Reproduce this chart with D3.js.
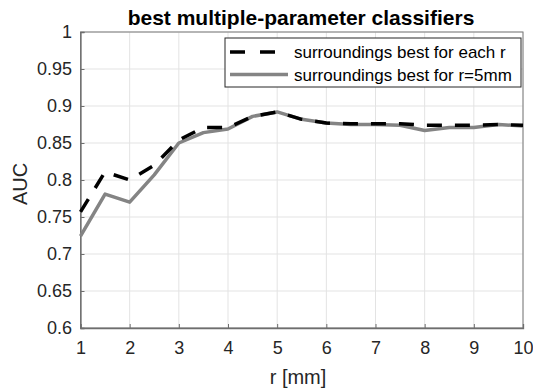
<!DOCTYPE html>
<html>
<head>
<meta charset="utf-8">
<script src="https://cdn.jsdelivr.net/npm/d3@7"></script>
<style>
  body { margin: 0; background: #fff; }
  svg { font-family: 'Liberation Sans', Arial, sans-serif; }
</style>
</head>
<body>
<div id="chart"></div>
<script>
// data
const r = [1, 1.5, 2, 2.5, 3, 3.5, 4, 4.5, 5, 5.5, 6, 6.5, 7, 7.5, 8, 8.5, 9, 9.5, 10];
const bestEach = [0.757, 0.811, 0.800, 0.820, 0.854, 0.871, 0.871, 0.886, 0.892, 0.882, 0.877, 0.876, 0.876, 0.876, 0.874, 0.874, 0.874, 0.875, 0.874];
const best5mm = [0.724, 0.781, 0.770, 0.807, 0.850, 0.864, 0.869, 0.886, 0.892, 0.882, 0.877, 0.875, 0.875, 0.874, 0.867, 0.871, 0.871, 0.875, 0.873];
const xTicks = [1, 2, 3, 4, 5, 6, 7, 8, 9, 10];
const yTicks = [0.6, 0.65, 0.7, 0.75, 0.8, 0.85, 0.9, 0.95, 1];
const seriesNames = ['surroundings best for each r', 'surroundings best for r=5mm'];

const width = 533, height = 391;
const margin = { top: 32, left: 80.5 };
const iw = 523 - margin.left, ih = 328 - margin.top;

const svg = d3.select('#chart')
    .append('svg')
    .attr('width', width)
    .attr('height', height);

const g = svg.append('g')
    .attr('transform', `translate(${margin.left},${margin.top})`);

const x = d3.scaleLinear().domain([1, 10]).range([0, iw]);
const y = d3.scaleLinear().domain([0.6, 1]).range([ih, 0]);

// grid
g.selectAll('.vgrid')
    .data(xTicks)
    .enter()
    .append('line')
    .attr('x1', d => x(d)).attr('x2', d => x(d))
    .attr('y1', 0).attr('y2', ih)
    .style('stroke', '#e3e3e3')
    .style('stroke-width', 1);

g.selectAll('.hgrid')
    .data(yTicks)
    .enter()
    .append('line')
    .attr('x1', 0).attr('x2', iw)
    .attr('y1', d => y(d)).attr('y2', d => y(d))
    .style('stroke', '#e3e3e3')
    .style('stroke-width', 1);

// box
g.append('rect')
    .attr('width', iw).attr('height', ih)
    .style('fill', 'none')
    .style('stroke', '#7a7a7a')
    .style('stroke-width', 1);

// axes
const xAxis = g.append('g')
    .attr('transform', `translate(0,${ih})`)
    .call(d3.axisBottom(x).tickValues(xTicks).tickSize(-4).tickPadding(13).tickFormat(d3.format('d')));
const yAxis = g.append('g')
    .call(d3.axisLeft(y).tickValues(yTicks).tickSize(-4).tickPadding(8.5).tickFormat(d => d3.format('')(+d.toFixed(2))));

[xAxis, yAxis].forEach(a => {
    a.select('.domain').style('stroke', '#6e6e6e').style('stroke-width', 1.3);
    a.selectAll('.tick line').style('stroke', '#6e6e6e');
    a.selectAll('text')
        .style('font-size', '18px')
        .style('fill', '#262626')
        .style('font-family', 'Liberation Sans, Arial, sans-serif');
});

// lines
const line = d3.line()
    .x((d, i) => x(r[i]))
    .y(d => y(d));

g.append('path')
    .datum(best5mm)
    .attr('d', line)
    .style('fill', 'none')
    .style('stroke', '#848484')
    .style('stroke-width', 3.5)
    .style('stroke-linejoin', 'round');

g.append('path')
    .datum(bestEach)
    .attr('d', line)
    .style('fill', 'none')
    .style('stroke', '#000')
    .style('stroke-width', 3.5)
    .style('stroke-dasharray', '15,13');

// title and labels
svg.append('text')
    .attr('x', 301).attr('y', 25)
    .attr('text-anchor', 'middle')
    .style('font-weight', 'bold')
    .style('font-size', '21px')
    .style('fill', '#000')
    .text('best multiple-parameter classifiers');

svg.append('text')
    .attr('x', 298).attr('y', 384)
    .attr('text-anchor', 'middle')
    .style('font-size', '20px')
    .style('fill', '#262626')
    .text('r [mm]');

svg.append('text')
    .attr('transform', 'translate(27,184) rotate(-90)')
    .attr('text-anchor', 'middle')
    .style('font-size', '20px')
    .style('fill', '#262626')
    .text('AUC');

// legend
const lg = svg.append('g').attr('transform', 'translate(225,38)');
lg.append('rect')
    .attr('width', 296).attr('height', 49)
    .style('fill', '#fff')
    .style('stroke', '#262626')
    .style('stroke-width', 1);

const legendStyles = [
    { stroke: '#000', dash: '15,15' },
    { stroke: '#848484', dash: null }
];
seriesNames.forEach((name, i) => {
    const yy = 14 + i * 22.5;
    lg.append('line')
        .attr('x1', 5).attr('x2', 63)
        .attr('y1', yy).attr('y2', yy)
        .style('stroke', legendStyles[i].stroke)
        .style('stroke-width', 3.5)
        .style('stroke-dasharray', legendStyles[i].dash);
    lg.append('text')
        .attr('x', 69).attr('y', yy + 6)
        .style('font-size', '17px')
        .style('fill', '#000')
        .text(name);
});
</script>
</body>
</html>
